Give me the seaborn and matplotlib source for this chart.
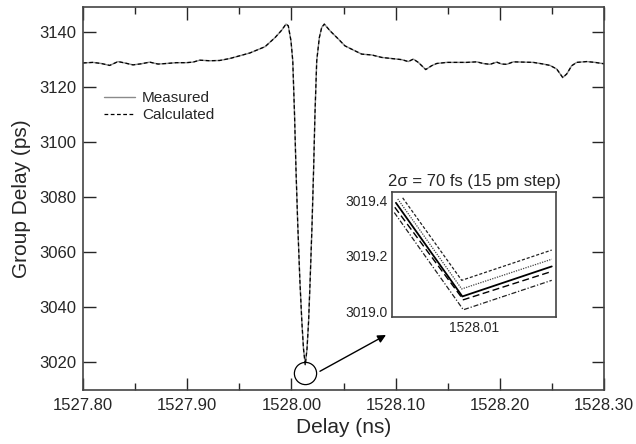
import numpy as np
import matplotlib
matplotlib.use("Agg")
import matplotlib.pyplot as plt
from matplotlib.ticker import MultipleLocator, FormatStrFormatter
import seaborn as sns

# main trace (ns, ps)
delay_ns = [1527.8000, 1527.8096, 1527.8176, 1527.8256, 1527.8336, 1527.8400, 1527.8480,
            1527.8560, 1527.8640, 1527.8720, 1527.8799, 1527.8895, 1527.8991, 1527.9056,
            1527.9120, 1527.9216, 1527.9312, 1527.9408, 1527.9504, 1527.9600, 1527.9696,
            1527.9747, 1527.9843, 1527.9907, 1527.9948, 1527.9970, 1527.9996, 1528.0013,
            1528.0030, 1528.0044, 1528.0061, 1528.0081, 1528.0100, 1528.0116, 1528.0133,
            1528.0150, 1528.0165, 1528.0180, 1528.0198, 1528.0213, 1528.0226, 1528.0243,
            1528.0268, 1528.0291, 1528.0316, 1528.0370, 1528.0450, 1528.0514, 1528.0594,
            1528.0675, 1528.0771, 1528.0867, 1528.0963, 1528.1059, 1528.1122, 1528.1170,
            1528.1218, 1528.1289, 1528.1346, 1528.1394, 1528.1490, 1528.1586, 1528.1682,
            1528.1778, 1528.1842, 1528.1906, 1528.1970, 1528.2018, 1528.2066, 1528.2130,
            1528.2226, 1528.2322, 1528.2418, 1528.2482, 1528.2546, 1528.2604, 1528.2642,
            1528.2690, 1528.2738, 1528.2834, 1528.2914, 1528.3000]
measured_ps = [3128.7, 3128.9, 3128.5, 3127.8, 3129.2, 3128.7, 3128.0,
               3128.4, 3129.0, 3128.3, 3128.5, 3128.8, 3128.8, 3129.0,
               3129.7, 3129.5, 3129.6, 3130.3, 3131.3, 3132.3, 3133.8,
               3134.6, 3137.9, 3140.6, 3142.8, 3142.2, 3136.7, 3129.5,
               3110.0, 3090.0, 3070.0, 3050.0, 3035.0, 3025.0, 3019.1,
               3025.0, 3035.0, 3050.0, 3070.0, 3090.0, 3110.0, 3129.5,
               3137.9, 3141.6, 3142.8, 3140.4, 3137.4, 3134.9, 3133.4,
               3131.9, 3131.6, 3130.7, 3130.3, 3129.9, 3129.2, 3130.1,
               3128.9, 3126.3, 3127.7, 3128.5, 3128.9, 3128.9, 3128.9,
               3129.1, 3128.5, 3128.2, 3129.0, 3128.3, 3128.2, 3129.1,
               3129.0, 3128.9, 3128.3, 3127.8, 3126.5, 3123.4, 3124.7,
               3127.7, 3128.9, 3129.2, 3128.9, 3128.4]
calculated_ps = list(measured_ps)

# zoomed view around the minimum, five sigma settings
inset_x_a = [1528.00565, 1528.00925, 1528.01474]
inset_y_a = [3019.409, 3019.112, 3019.221]
inset_x_b = [1528.00535, 1528.00925, 1528.01474]
inset_y_b = [3019.405, 3019.081, 3019.188]
inset_x_c = [1528.00524, 1528.00929, 1528.01474]
inset_y_c = [3019.391, 3019.054, 3019.162]
inset_x_d = [1528.00517, 1528.00935, 1528.01474]
inset_y_d = [3019.375, 3019.042, 3019.144]
inset_x_e = [1528.00514, 1528.00935, 1528.01474]
inset_y_e = [3019.356, 3019.006, 3019.112]

zoom_center = (1528.0131, 3016.2)
arrow_tail = (1528.0274, 3016.8)

sns.set_style("ticks")
plt.rcParams["font.family"] = ["Liberation Sans", "DejaVu Sans"]

fig = plt.figure(figsize=(6.36, 4.44), dpi=100)
ax = fig.add_axes([0.1305, 0.1216, 0.8192, 0.8626])

sns.lineplot(x=delay_ns, y=measured_ps, ax=ax, color="#8a8a8a", lw=1.0,
             estimator=None, sort=False, label="Measured")
sns.lineplot(x=delay_ns, y=calculated_ps, ax=ax, color="black", lw=0.9,
             dashes=False, ls=(0, (3, 2)), estimator=None, sort=False,
             label="Calculated")

ax.set_xlim(1527.80, 1528.30)
ax.set_ylim(3010, 3149)
ax.xaxis.set_major_locator(MultipleLocator(0.1))
ax.xaxis.set_minor_locator(MultipleLocator(0.05))
ax.xaxis.set_major_formatter(FormatStrFormatter("%.2f"))
ax.yaxis.set_major_locator(MultipleLocator(20))
ax.tick_params(axis="x", which="both", direction="in", top=True, labelsize=12, pad=6)
ax.tick_params(axis="x", which="major", length=9, width=1)
ax.tick_params(axis="x", which="minor", length=5, width=1)
ax.tick_params(axis="y", direction="in", right=True, length=9, width=1, labelsize=12, pad=5)
for sp in ax.spines.values():
    sp.set_color("#444444")
    sp.set_linewidth(1.2)
ax.set_xlabel("Delay (ns)", fontsize=15, labelpad=3)
ax.set_ylabel("Group Delay (ps)", fontsize=15, labelpad=6)

ax.legend(loc="upper left", bbox_to_anchor=(104 / 636, 1 - 91 / 444),
          bbox_transform=fig.transFigure, frameon=False, fontsize=11,
          handlelength=2.0, handletextpad=0.5, labelspacing=0.2,
          borderpad=0, borderaxespad=0)

# circle round the minimum and arrow to the inset
ax.plot([zoom_center[0]], [zoom_center[1]], marker="o", ms=16, mfc="none",
        mec="black", mew=0.9, ls="none")
ax.annotate("", xy=(386 / 636, 1 - 335 / 444), xycoords="figure fraction",
            xytext=arrow_tail, textcoords="data",
            arrowprops=dict(arrowstyle="-|>", color="black", lw=1.0,
                            mutation_scale=12, shrinkA=0, shrinkB=0))

# inset
axin = fig.add_axes([392 / 636, 1 - 317 / 444, 164 / 636, 125 / 444])
sns.lineplot(x=inset_x_a, y=inset_y_a, ax=axin, color="#222222", lw=0.9,
             ls=(0, (2.5, 1.5)), estimator=None, sort=False)
sns.lineplot(x=inset_x_b, y=inset_y_b, ax=axin, color="#444444", lw=0.9,
             ls=(0, (1, 1)), estimator=None, sort=False)
sns.lineplot(x=inset_x_c, y=inset_y_c, ax=axin, color="black", lw=1.3,
             ls="-", estimator=None, sort=False)
sns.lineplot(x=inset_x_d, y=inset_y_d, ax=axin, color="black", lw=1.0,
             ls=(0, (5, 2.5)), estimator=None, sort=False)
sns.lineplot(x=inset_x_e, y=inset_y_e, ax=axin, color="#222222", lw=0.9,
             ls=(0, (4, 1.5, 1, 1.5)), estimator=None, sort=False)
axin.set_xlim(1528.005, 1528.015)
axin.set_ylim(3018.98, 3019.43)
axin.set_xticks([1528.01])
axin.xaxis.set_major_formatter(FormatStrFormatter("%.2f"))
axin.set_yticks([3019.0, 3019.2, 3019.4])
axin.yaxis.set_major_formatter(FormatStrFormatter("%.1f"))
axin.tick_params(length=0, labelsize=10, pad=3)
for sp in axin.spines.values():
    sp.set_color("#444444")
    sp.set_linewidth(1.2)
axin.set_facecolor("white")
axin.set_title("2σ = 70 fs (15 pm step)", fontsize=12, pad=4)

fig.savefig("out.png", dpi=100)
